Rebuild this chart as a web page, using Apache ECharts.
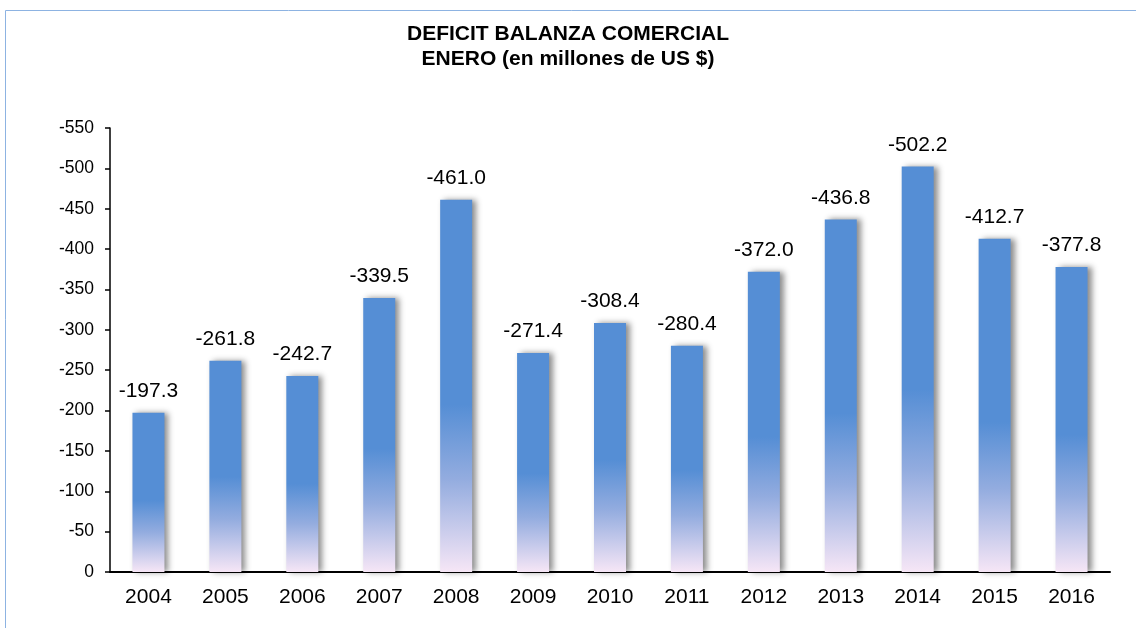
<!DOCTYPE html>
<html><head><meta charset="utf-8">
<script src="https://cdn.jsdelivr.net/npm/echarts@6/dist/echarts.min.js"></script>
<style>html,body{margin:0;padding:0;background:#fff}#c{width:1136px;height:628px}</style>
</head><body><div id="c"></div>
<script>
var years = ['2004','2005','2006','2007','2008','2009','2010','2011','2012','2013','2014','2015','2016'];
var deficit = [-197.3,-261.8,-242.7,-339.5,-461.0,-271.4,-308.4,-280.4,-372.0,-436.8,-502.2,-412.7,-377.8];
var titleLines = ['DEFICIT BALANZA COMERCIAL','ENERO (en millones de US $)'];
var yMin = -550, yMax = 0, yStep = 50;

var chart = echarts.init(document.getElementById('c'), null, {renderer:'canvas'});
var font = '"Liberation Sans", Arial, sans-serif';
chart.setOption({
  animation:false,
  backgroundColor:'#fff',
  graphic:[{type:'rect',shape:{x:5.5,y:10.5,width:1300,height:800},style:{fill:'none',stroke:'#8DB3E2',lineWidth:1},silent:true,z:-1}],
  title:{text:titleLines.join('\n'),left:'center',top:17,textStyle:{fontFamily:font,fontSize:21,fontWeight:'bold',color:'#000',lineHeight:25}},
  grid:{left:110,right:26,top:128,bottom:56},
  xAxis:[{
    type:'category',data:years,
    axisLine:{lineStyle:{color:'#000',width:2}},
    axisTick:{inside:true,length:6,lineStyle:{color:'#000',width:1.5}},
    axisLabel:{fontFamily:font,fontSize:21,color:'#000',margin:15}
  },{
    type:'category',data:years,position:'bottom',
    axisLine:{show:false},
    axisTick:{alignWithLabel:true,inside:true,length:4,lineStyle:{color:'#555',width:1.5}},
    axisLabel:{show:false}
  }],
  yAxis:{
    type:'value',inverse:true,min:yMin,max:yMax,interval:yStep,
    axisLine:{show:true,lineStyle:{color:'#000',width:1.5}},
    axisTick:{show:true,length:5,lineStyle:{color:'#000',width:1.5}},
    splitLine:{show:false},
    axisLabel:{fontFamily:font,fontSize:17.5,color:'#000',margin:16}
  },
  series:[{
    type:'bar',data:deficit,barWidth:32,
    itemStyle:{
      color:new echarts.graphic.LinearGradient(0,0,0,1,[
        {offset:0,color:'#558ED5'},
        {offset:0.55,color:'#558ED5'},
        {offset:0.75,color:'#93ACDF'},
        {offset:1,color:'#F6E6F6'}
      ]),
      shadowColor:'rgba(0,0,0,0.45)',shadowBlur:6,shadowOffsetX:4,shadowOffsetY:0
    },
    label:{show:true,position:'top',distance:11,fontFamily:font,fontSize:21,color:'#000',
      formatter:function(p){return p.value.toFixed(1);}}
  }]
});
</script></body></html>
